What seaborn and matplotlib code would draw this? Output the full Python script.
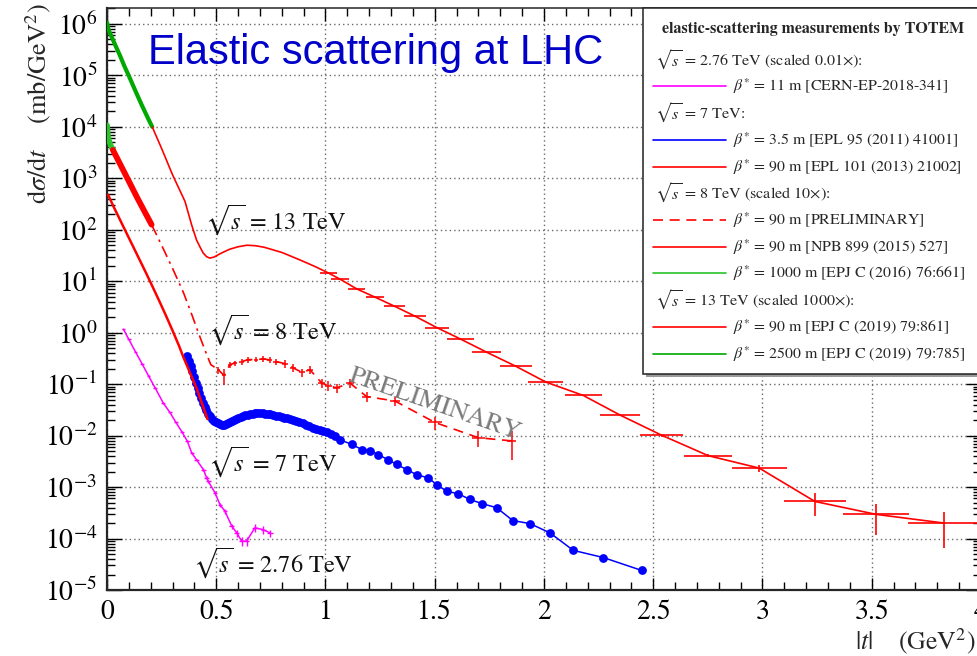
import numpy as np
import pandas as pd
import matplotlib
matplotlib.use("Agg")
import matplotlib.pyplot as plt
from matplotlib.lines import Line2D
from matplotlib.patches import Rectangle
from matplotlib.ticker import (LogLocator, MultipleLocator, FixedLocator,
                               FixedFormatter, LogFormatterMathtext, NullFormatter)
import seaborn as sns

# ------------------------------------------------------------------
# TOTEM elastic differential cross-sections dsigma/dt  [mb/GeV^2]
# (values as plotted, i.e. already multiplied by the legend's scale factor)
# ------------------------------------------------------------------

# sqrt(s) = 13 TeV (x1000), beta* = 2500 m
t_13_b2500 = [0.0008, 0.003, 0.006, 0.02, 0.04, 0.06, 0.08, 0.10, 0.13, 0.16, 0.19, 0.207]
ds_13_b2500 = [1.05e6, 9.3e5, 7.9e5, 5.75e5, 3.7e5, 2.4e5, 1.5e5, 9.8e4, 5.0e4, 2.6e4, 1.4e4, 1.0e4]

# sqrt(s) = 13 TeV (x1000), beta* = 90 m : fine binning
t_13_b90 = [0.207, 0.25, 0.30, 0.357, 0.387, 0.41, 0.426, 0.44, 0.455, 0.47, 0.49,
            0.52, 0.56, 0.60, 0.64, 0.68, 0.72, 0.80, 0.88, 0.95]
ds_13_b90 = [1.0e4, 3.8e3, 1.17e3, 355, 126, 63, 46, 35.5, 30.2, 28.2, 29.5,
             34.7, 41.7, 46.8, 50.1, 49.0, 45.7, 36.3, 26.3, 19.5]
# sqrt(s) = 13 TeV (x1000), beta* = 90 m : wide bins at large |t|
t_13_bins = [1.013, 1.066, 1.143, 1.227, 1.318, 1.41, 1.509, 1.616, 1.738, 1.87,
             2.008, 2.18, 2.348, 2.538, 2.752, 2.985, 3.24, 3.52, 3.83]
ds_13_bins = [14.5, 11.0, 7.1, 4.9, 3.24, 2.09, 1.26, 0.76, 0.417, 0.224,
              0.110, 0.0603, 0.0251, 0.0102, 0.00407, 0.00234, 5.25e-4, 2.95e-4, 2.0e-4]
dt_13_bins = [0.04, 0.04, 0.04, 0.042, 0.048, 0.052, 0.055, 0.062, 0.066, 0.073,
              0.08, 0.085, 0.09, 0.10, 0.11, 0.125, 0.14, 0.15, 0.165]
err_13_bins = [0.4, 0.3, 0.2, 0.15, 0.1, 0.07, 0.04, 0.025, 0.014, 0.008,
               0.004, 0.0025, 0.0012, 0.0006, 0.0003, 0.0004, 2.5e-4, 1.8e-4, 1.35e-4]

# sqrt(s) = 8 TeV (x10), beta* = 1000 m
t_8_b1000 = [0.0007, 0.002, 0.005, 0.010, 0.016, 0.022, 0.029]
ds_8_b1000 = [1.07e4, 8.5e3, 6.6e3, 5.25e3, 4.47e3, 3.9e3, 3.55e3]

# sqrt(s) = 8 TeV (x10), beta* = 90 m (NPB 899)
t_8_b90 = [0.027, 0.05, 0.08, 0.11, 0.14, 0.17, 0.204]
ds_8_b90 = [3550, 2290, 1290, 724, 407, 234, 126]

# sqrt(s) = 8 TeV (x10), beta* = 90 m preliminary: dip-approach part
t_8_pre_low = [0.204, 0.25, 0.30, 0.35, 0.39, 0.42, 0.45, 0.475, 0.51]
ds_8_pre_low = [126, 50, 17.8, 6.0, 2.14, 0.95, 0.44, 0.24, 0.19]
# sqrt(s) = 8 TeV (x10), beta* = 90 m preliminary: measured points
t_8_pre = [0.51, 0.535, 0.563, 0.586, 0.616, 0.647, 0.682, 0.716, 0.745, 0.773,
           0.815, 0.85, 0.891, 0.929, 0.983, 1.013, 1.051, 1.112, 1.188, 1.318,
           1.501, 1.70, 1.852]
ds_8_pre = [0.19, 0.148, 0.24, 0.257, 0.275, 0.30, 0.30, 0.31, 0.295, 0.275,
            0.25, 0.21, 0.17, 0.19, 0.105, 0.093, 0.085, 0.105, 0.0575, 0.047,
            0.018, 0.0091, 0.0079]
dt_8_pre = [0.008, 0.008, 0.009, 0.009, 0.01, 0.01, 0.01, 0.011, 0.011, 0.012,
            0.013, 0.013, 0.014, 0.015, 0.016, 0.016, 0.017, 0.018, 0.02, 0.022,
            0.03, 0.03, 0.02]
err_8_pre = [0.03, 0.05, 0.035, 0.03, 0.035, 0.04, 0.035, 0.04, 0.04, 0.04,
             0.04, 0.035, 0.03, 0.035, 0.02, 0.02, 0.018, 0.02, 0.012, 0.01,
             0.005, 0.003, 0.0045]

# sqrt(s) = 7 TeV, beta* = 90 m (EPL 101)
t_7_b90 = [0.005, 0.03, 0.06, 0.09, 0.12, 0.15, 0.18, 0.21, 0.24, 0.27,
           0.30, 0.33, 0.35, 0.37, 0.39, 0.41, 0.43, 0.45, 0.46]
ds_7_b90 = [479, 282, 155, 85, 46.8, 25.7, 14.1, 7.6, 4.07, 2.14,
            1.10, 0.55, 0.331, 0.209, 0.132, 0.0832, 0.0479, 0.0275, 0.0209]

# sqrt(s) = 7 TeV, beta* = 3.5 m (EPL 95)
t_7_b3p5 = [0.367, 0.375, 0.383, 0.391, 0.399, 0.407, 0.415, 0.423, 0.431, 0.439,
            0.447, 0.455, 0.463, 0.471, 0.480, 0.489, 0.498, 0.507, 0.516, 0.525,
            0.534, 0.543, 0.552, 0.561, 0.570, 0.580, 0.590, 0.600, 0.611, 0.622,
            0.633, 0.644, 0.655, 0.666, 0.677, 0.688, 0.700, 0.712, 0.724, 0.736,
            0.748, 0.760, 0.773, 0.786, 0.799, 0.812, 0.825, 0.839, 0.853, 0.867,
            0.881, 0.896, 0.911, 0.926, 0.942, 0.958, 0.974, 0.990, 1.007, 1.024,
            1.042, 1.066, 1.12, 1.166, 1.204, 1.242, 1.287, 1.326, 1.372, 1.417,
            1.47, 1.509, 1.554, 1.608, 1.661, 1.715, 1.783, 1.857, 1.936, 2.027,
            2.134, 2.272, 2.447]
ds_7_b3p5 = [0.347, 0.282, 0.224, 0.178, 0.138, 0.107, 0.0851, 0.0676, 0.0537, 0.0437,
             0.0363, 0.0309, 0.0269, 0.0240, 0.0214, 0.0195, 0.0182, 0.0174, 0.0166, 0.0162,
             0.0162, 0.0166, 0.0174, 0.0182, 0.0195, 0.0204, 0.0214, 0.0224, 0.0234, 0.0245,
             0.0251, 0.0257, 0.0263, 0.0269, 0.0275, 0.0275, 0.0275, 0.0275, 0.0269, 0.0269,
             0.0263, 0.0257, 0.0245, 0.0240, 0.0234, 0.0224, 0.0219, 0.0209, 0.0204, 0.0195,
             0.0186, 0.0174, 0.0162, 0.0151, 0.0141, 0.0135, 0.0129, 0.0123, 0.0115, 0.0107,
             0.00977, 0.00832, 0.00676, 0.00537, 0.00513, 0.00427, 0.00339, 0.00275, 0.00219, 0.00174,
             0.00151, 0.00112, 8.32e-4, 7.41e-4, 5.75e-4, 4.79e-4, 3.98e-4, 2.24e-4, 1.95e-4, 1.29e-4,
             5.89e-5, 4.27e-5, 2.40e-5]

# sqrt(s) = 2.76 TeV (x0.01), beta* = 11 m
t_276 = [0.075, 0.10, 0.13, 0.16, 0.19, 0.22, 0.258, 0.288, 0.315, 0.342,
         0.368, 0.388, 0.41, 0.441, 0.456, 0.464, 0.494, 0.517, 0.54, 0.571,
         0.594, 0.616, 0.639, 0.677, 0.716, 0.746]
ds_276 = [1.17, 0.741, 0.427, 0.251, 0.145, 0.0851, 0.0427, 0.0282, 0.0182, 0.0120,
          0.00776, 0.00457, 0.00339, 0.00219, 0.00151, 0.00129, 7.76e-4, 4.57e-4, 3.39e-4, 1.74e-4,
          1.29e-4, 8.9e-5, 8.9e-5, 1.62e-4, 1.48e-4, 1.29e-4]
dt_276 = [0.008, 0.008, 0.008, 0.008, 0.008, 0.009, 0.009, 0.009, 0.009, 0.010,
          0.010, 0.010, 0.010, 0.010, 0.010, 0.010, 0.011, 0.011, 0.011, 0.011,
          0.011, 0.011, 0.011, 0.012, 0.012, 0.012]
err_276 = [0.02, 0.014, 0.008, 0.005, 0.003, 0.002, 0.0012, 0.0009, 0.0006, 0.0005,
           0.0004, 0.00025, 0.0002, 0.00014, 0.0001, 9e-5, 6e-5, 4e-5, 3.5e-5, 2.2e-5,
           2e-5, 1.8e-5, 1.8e-5, 3e-5, 2.5e-5, 2e-5]

xtick_values = [0, 0.5, 1, 1.5, 2, 2.5, 3, 3.5, 4]
xtick_labels = ["0", "0.5", "1", "1.5", "2", "2.5", "3", "3.5", "4"]

RED = "#ff0000"
BLUE = "#0000ff"
MAGENTA = "#ff00ff"
GREEN8 = "#2ac42a"
GREEN13 = "#00a800"

# ------------------------------------------------------------------
sns.set_theme(style="ticks")
plt.rcParams.update({
    "font.family": ["STIXGeneral", "DejaVu Serif"],
    "mathtext.fontset": "stix",
    "axes.linewidth": 1.4,
    "xtick.color": "black",
    "ytick.color": "black",
})

W, H = 978, 656
fig = plt.figure(figsize=(W / 100, H / 100), dpi=100)
fig.patch.set_facecolor("white")


def fx(px):
    return px / W


def fy(py):
    return 1 - py / H


ax = fig.add_axes([fx(107), fy(590), fx(981) - fx(107), fy(8) - fy(590)])
ax.set_facecolor("white")
ax.set_yscale("log")
ax.set_xlim(0, 4)
ax.set_ylim(1e-5, 10 ** 6.31)


def curve(t, ds, **kw):
    df = pd.DataFrame({"t": t, "ds": ds})
    sns.lineplot(data=df, x="t", y="ds", ax=ax, estimator=None, sort=False,
                 legend=False, **kw)


# 2.76 TeV
curve(t_276, ds_276, color=MAGENTA, lw=1.1, zorder=3)
ax.errorbar(t_276, ds_276, xerr=dt_276, yerr=err_276, fmt="none",
            ecolor=MAGENTA, elinewidth=1.0, capsize=0, zorder=3)

# 7 TeV, beta* = 3.5 m
curve(t_7_b3p5, ds_7_b3p5, color=BLUE, lw=1.1, zorder=4)
sns.scatterplot(x=t_7_b3p5, y=ds_7_b3p5, ax=ax, color=BLUE, s=40,
                linewidth=0, zorder=4, legend=False)

# 7 TeV, beta* = 90 m
curve(t_7_b90, ds_7_b90, color=RED, lw=1.8, zorder=5)

# 8 TeV
curve(t_8_b1000, ds_8_b1000, color=GREEN8, lw=4.0, zorder=5)
curve(t_8_b90, ds_8_b90, color=RED, lw=4.2, zorder=5)
curve(t_8_pre_low, ds_8_pre_low, color=RED, lw=1.2,
      linestyle=(0, (7, 3, 1.5, 3)), zorder=5)
curve(t_8_pre, ds_8_pre, color=RED, lw=1.2, linestyle=(0, (6, 4)), zorder=5)
ax.errorbar(t_8_pre, ds_8_pre, xerr=dt_8_pre, yerr=err_8_pre, fmt="none",
            ecolor=RED, elinewidth=1.1, capsize=0, zorder=5)

# 13 TeV
curve(t_13_b2500, ds_13_b2500, color=GREEN13, lw=3.0, zorder=6)
curve(t_13_b90 + t_13_bins, ds_13_b90 + ds_13_bins, color=RED, lw=1.2, zorder=6)
ax.errorbar(t_13_bins, ds_13_bins, xerr=dt_13_bins, yerr=err_13_bins, fmt="none",
            ecolor=RED, elinewidth=1.2, capsize=0, zorder=6)

# axes cosmetics
ax.set_xlabel("")
ax.set_ylabel("")
ax.xaxis.set_major_locator(FixedLocator(xtick_values))
ax.xaxis.set_major_formatter(FixedFormatter(xtick_labels))
ax.xaxis.set_minor_locator(MultipleLocator(0.1))
ax.yaxis.set_major_locator(LogLocator(base=10, numticks=30))
ax.yaxis.set_major_formatter(LogFormatterMathtext())
ax.yaxis.set_minor_locator(LogLocator(base=10, subs=np.arange(2, 10), numticks=30))
ax.yaxis.set_minor_formatter(NullFormatter())
ax.tick_params(which="both", direction="in", top=True, right=True, width=1.0,
               labelsize=20)
ax.tick_params(axis="x", which="major", length=9, pad=7)
ax.tick_params(axis="x", which="minor", length=5.5)
ax.tick_params(axis="y", which="major", length=11, pad=7)
ax.tick_params(axis="y", which="minor", length=5.5)
for side in ["left", "bottom"]:
    ax.spines[side].set_linewidth(1.6)
for side in ["top", "right"]:
    ax.spines[side].set_linewidth(1.1)
ax.grid(which="major", linestyle=(0, (1, 2.2)), color="#6a6a6a", lw=1.0)
ax.set_axisbelow(True)

# curve annotations
lab = dict(fontsize=17.5, color="#111111", ha="left", va="center", zorder=7)
ax.text(0.449, 10 ** 2.19, r"$\sqrt{s}$ = 13 TeV", **lab)
ax.text(0.462, 10 ** 0.06, r"$\sqrt{s}$ = 8 TeV", **lab)
ax.text(0.462, 10 ** -2.50, r"$\sqrt{s}$ = 7 TeV", **lab)
ax.text(0.394, 10 ** -4.47, r"$\sqrt{s}$ = 2.76 TeV", **lab)
ax.text(1.50, 0.040, "PRELIMINARY", fontsize=19, color="#7a7a7a", rotation=-19,
        rotation_mode="anchor", ha="center", va="center", zorder=7)

# axis titles
fig.text(fx(38), fy(3), r"$\mathrm{d}\sigma/\mathrm{d}t$    (mb/GeV$^{2}$)",
         rotation=90, ha="center", va="top", fontsize=19)
fig.text(fx(975), fy(641), r"$|t|$    (GeV$^{2}$)", ha="right", va="center",
         fontsize=18.5)

# heading
fig.text(fx(148), fy(64), "Elastic scattering at LHC", family="Liberation Sans",
         fontsize=30, color="#0000c8", ha="left", va="baseline")

# legend panel
fig.add_artist(Rectangle((fx(646), fy(377)), fx(995) - fx(646), fy(8) - fy(377),
                         transform=fig.transFigure, facecolor="#9a9a9a",
                         edgecolor="none", zorder=4))
fig.add_artist(Rectangle((fx(643), fy(374)), fx(995) - fx(643), fy(8) - fy(374),
                         transform=fig.transFigure, facecolor="white",
                         edgecolor="#222222", lw=1.1, zorder=5))
fig.text(fx(813), fy(29), "elastic-scattering measurements by TOTEM",
         fontsize=11.5, weight="bold", ha="center", va="center", zorder=6)

legend_rows = [
    ("head", 60, r"$\sqrt{s}$ = 2.76 TeV (scaled 0.01$\times$):", None, None),
    ("line", 86, r"$\beta^{*}$ = 11 m [CERN-EP-2018-341]", MAGENTA, "-"),
    ("head", 113, r"$\sqrt{s}$ = 7 TeV:", None, None),
    ("line", 140, r"$\beta^{*}$ = 3.5 m [EPL 95 (2011) 41001]", BLUE, "-"),
    ("line", 167, r"$\beta^{*}$ = 90 m [EPL 101 (2013) 21002]", RED, "-"),
    ("head", 193, r"$\sqrt{s}$ = 8 TeV (scaled 10$\times$):", None, None),
    ("line", 220, r"$\beta^{*}$ = 90 m [PRELIMINARY]", RED, (0, (6, 4))),
    ("line", 247, r"$\beta^{*}$ = 90 m [NPB 899 (2015) 527]", RED, "-"),
    ("line", 273, r"$\beta^{*}$ = 1000 m [EPJ C (2016) 76:661]", GREEN8, "-"),
    ("head", 300, r"$\sqrt{s}$ = 13 TeV (scaled 1000$\times$):", None, None),
    ("line", 327, r"$\beta^{*}$ = 90 m [EPJ C (2019) 79:861]", RED, "-"),
    ("line", 354, r"$\beta^{*}$ = 2500 m [EPJ C (2019) 79:785]", GREEN13, "-"),
]
for kind, py, text, col, ls in legend_rows:
    if kind == "head":
        fig.text(fx(655), fy(py), text, fontsize=11.6, ha="left", va="center", zorder=6)
    else:
        fig.add_artist(Line2D([fx(653), fx(726)], [fy(py), fy(py)], color=col,
                              lw=1.2, linestyle=ls, transform=fig.transFigure,
                              zorder=6))
        fig.text(fx(733), fy(py), text, fontsize=11.4, ha="left", va="center", zorder=6)

fig.savefig("out.png", dpi=100, facecolor="white")
